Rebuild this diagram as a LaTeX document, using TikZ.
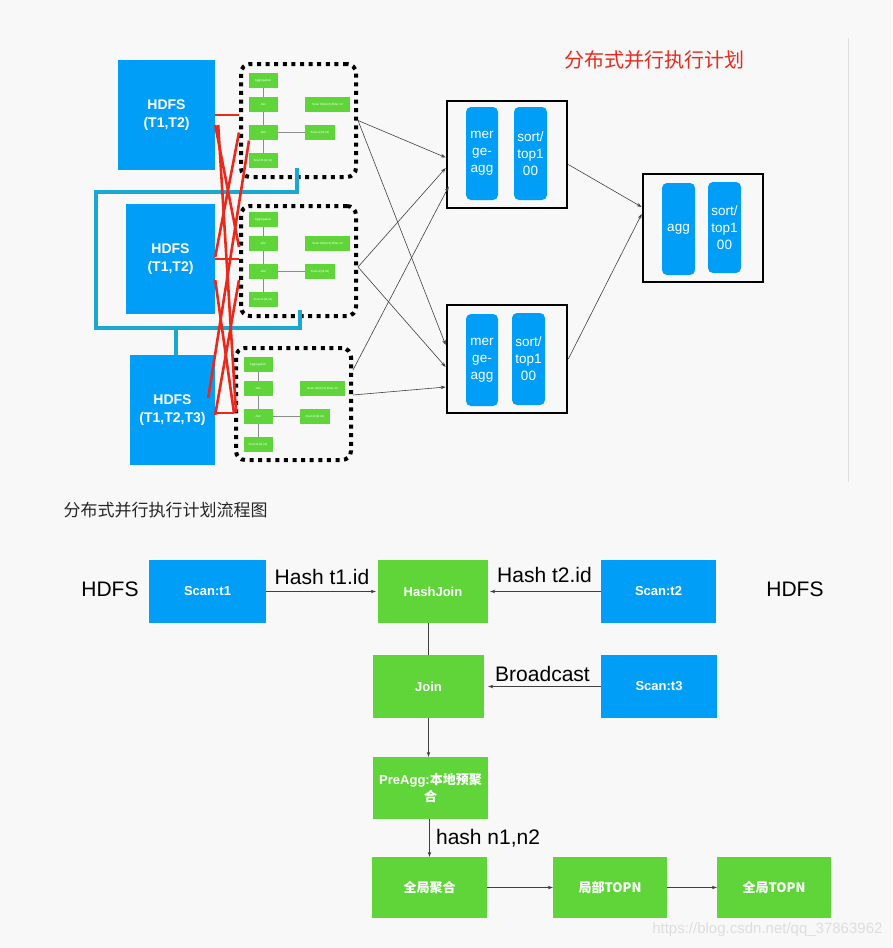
\documentclass[tikz,border=0pt]{standalone}
\usepackage{fontspec}
\setmainfont{Liberation Sans}
\newfontfamily\cjk{Noto Sans CJK SC}
\usetikzlibrary{arrows.meta}
\definecolor{hbg}{HTML}{F8F8F8}
\definecolor{hblue}{HTML}{009EF7}
\definecolor{hgreen}{HTML}{5FD53A}
\definecolor{hred}{HTML}{E8291C}
\definecolor{hteal}{HTML}{1AA8D2}
\tikzset{
  blk/.style={fill=hblue,text=white,inner sep=0pt,align=center},
  grn/.style={fill=hgreen,text=white,inner sep=0pt,align=center},
  pill/.style={blk,rounded corners=5pt,font=\fontsize{13.5}{17}\selectfont},
  boxtxt/.style={font=\bfseries\fontsize{13}{17}\selectfont},
  stage/.style={draw=black,line width=2.6pt,inner sep=0pt},
  frag/.style={draw=black,line width=4pt,dash pattern=on 4pt off 4.6pt,rounded corners=9pt,inner sep=0pt,minimum width=115pt},
  op/.style={grn,font=\fontsize{3}{3.5}\selectfont,minimum height=15pt},
  flow/.style={-{Stealth[length=5pt,width=3.5pt]},draw=black!75,line width=0.6pt},
  xch/.style={hred,line width=2.6pt},
  lbl/.style={font=\fontsize{21}{24}\selectfont,text=black}
}
\begin{document}
\begin{tikzpicture}[x=1pt,y=-1pt]
\fill[hbg] (0,0) rectangle (892,948);
\useasboundingbox (0,0) rectangle (892,948);
\draw[black!13,line width=1pt] (848,38) -- (848,482);
\node[text=hred,font=\cjk\fontsize{20}{24}\selectfont] (ttl) at (654,60) {分布式并行执行计划};

\node[blk,boxtxt,font=\bfseries\fontsize{14}{18}\selectfont,minimum width=97pt,minimum height=110pt] (h1) at (166.5,115) {HDFS\\(T1,T2)};
\node[blk,boxtxt,font=\bfseries\fontsize{14}{18}\selectfont,minimum width=89pt,minimum height=110pt] (h2) at (170.5,259) {HDFS\\(T1,T2)};
\node[blk,boxtxt,font=\bfseries\fontsize{14}{18}\selectfont,minimum width=85pt,minimum height=110pt] (h3) at (172.5,410) {HDFS\\(T1,T2,T3)};

\foreach \i/\x/\y/\h/\c in {1/241/64/113/64, 2/241/206/110/203, 3/236/348/112/348}{
  \node[frag,minimum height={\h pt}] (f\i) at (\x+57.5,\y+\h/2) {};
  \node[op,minimum width=29pt] (agg\i) at (\x+22,\c+16.5) {Aggregation};
  \node[op,minimum width=29pt] (jn\i) at (\x+22,\c+40.5) {Join};
  \node[op,minimum width=29pt] (hj\i) at (\x+22,\c+68.5) {Join};
  \node[op,minimum width=29pt] (sc\i) at (\x+22,\c+96.5) {Scan t1(id,n1)};
  \node[op,minimum width=45pt] (sa\i) at (\x+86.5,\c+40.5) {Scan t3(id,n3),Filter n3};
  \node[op,minimum width=30pt] (sb\i) at (\x+79,\c+68.5) {Scan t2(id,n2)};
  \draw[black!45,line width=0.5pt] (agg\i) -- (jn\i) -- (hj\i) -- (sc\i) (hj\i) -- (sb\i);
}

\draw[hteal,line width=4pt] (297,168) -- (297,192) -- (96,192) -- (96,328) -- (300,328) -- (300,310);
\draw[hteal,line width=4pt] ([xshift=3.5pt]h3.north) -- ([xshift=3.5pt]h3.north |- 0,326);

\draw[xch] (h1.east) -- (h1.east -| f1.west);
\draw[xch] (h2.east) -- (h2.east -| f2.west);
\draw[xch] ([yshift=-3pt]h3.east) -- ([yshift=-3pt]h3.east -| f3.west);
\draw[xch] ([yshift=-10pt]h1.east) -- ([yshift=14pt]f2.west);
\draw[xch] ([xshift=3pt,yshift=-10pt]h1.east) -- ([xshift=2pt,yshift=-8pt]f3.west);
\draw[xch] ([yshift=-12pt]f1.west) -- ([yshift=2pt]h2.east);
\draw[xch] ([xshift=10pt,yshift=-20pt]f1.west) -- ([xshift=-7pt,yshift=12pt]h3.east);
\draw[xch] ([yshift=-21pt]h2.east) -- ([yshift=-9pt]f3.west);
\draw[xch] ([yshift=-19pt]f2.west) -- ([yshift=-5pt]h3.east);

\node[stage,minimum width=120pt,minimum height=107pt] (m1) at (507,154.5) {};
\node[pill,minimum width=32pt,minimum height=93pt] (ma1) at (482,153.5) {mer\\ge-\\agg};
\node[pill,minimum width=33pt,minimum height=93pt] (ms1) at (530.5,153.5) {sort/\\top1\\00};
\node[stage,minimum width=120pt,minimum height=108pt] (m2) at (507,359) {};
\node[pill,minimum width=32pt,minimum height=92pt] (ma2) at (482,360) {mer\\ge-\\agg};
\node[pill,minimum width=33pt,minimum height=92pt] (ms2) at (528.5,359) {sort/\\top1\\00};
\node[stage,minimum width=120pt,minimum height=108pt] (g) at (703,228) {};
\node[pill,minimum width=33pt,minimum height=92pt] (ga1) at (678.5,229) {agg};
\node[pill,minimum width=33pt,minimum height=91pt] (gs1) at (724.5,227.5) {sort/\\top1\\00};

\draw[flow] (f1.east) -- ([yshift=-3pt]m1.west);
\draw[flow] (f1.east) -- ([yshift=14pt]m2.west);
\draw[flow] ([yshift=-6pt]f2.east) -- ([yshift=-13.5pt]m1.west);
\draw[flow] ([yshift=-6pt]f2.east) -- ([yshift=-8pt]m2.west);
\draw[flow] ([yshift=34pt]f3.east) -- ([xshift=3pt,yshift=-32pt]m1.west);
\draw[flow] ([yshift=9pt]f3.east) -- ([yshift=-28pt]m2.west);
\draw[flow] ([yshift=-10pt]m1.east) -- ([yshift=21pt]g.west);
\draw[flow] (m2.east) -- ([yshift=14pt]g.west);

\node[anchor=west,text=black!85,font=\cjk\fontsize{17}{20}\selectfont] (ttl2) at (60,510) {分布式并行执行计划流程图};
\node[lbl] (src1) at (110,589) {HDFS};
\node[lbl] (src2) at (795,589) {HDFS};

\node[blk,boxtxt,minimum width=117pt,minimum height=63pt] (t1) at (207.5,591.5) {Scan:t1};
\node[grn,boxtxt,minimum width=110pt,minimum height=63pt] (hj) at (433,591.5) {HashJoin};
\node[blk,boxtxt,minimum width=115pt,minimum height=63pt] (t2) at (658.5,591.5) {Scan:t2};
\node[grn,boxtxt,minimum width=111pt,minimum height=63pt] (jn) at (428.5,686.5) {Join};
\node[blk,boxtxt,minimum width=116pt,minimum height=63pt] (t3) at (659,686.5) {Scan:t3};
\node[grn,boxtxt,minimum width=115pt,minimum height=62pt] (pa) at (430.5,788) {PreAgg:{\cjk 本地预聚}\\{\cjk 合}};
\node[grn,boxtxt,font=\cjk\bfseries\fontsize{13}{17}\selectfont,minimum width=115pt,minimum height=61pt] (ga) at (429.5,887.5) {全局聚合};
\node[grn,boxtxt,font=\cjk\bfseries\fontsize{13}{17}\selectfont,minimum width=114pt,minimum height=61pt] (lt) at (610,887.5) {局部TOPN};
\node[grn,boxtxt,font=\cjk\bfseries\fontsize{13}{17}\selectfont,minimum width=114pt,minimum height=61pt] (gt) at (774,887.5) {全局TOPN};

\draw[flow,shorten >=2pt] (t1) -- node[lbl,above=3pt] (e1) {Hash t1.id} (hj);
\draw[flow,shorten >=2pt] (t2) -- node[lbl,above=5pt] (e2) {Hash t2.id} (hj);
\draw[flow,shorten >=4pt] (t3) -- node[lbl,above=1pt] (e3) {Broadcast} (jn);
\draw[draw=black!75,line width=0.6pt] (jn.north |- hj.south) -- (jn.north);
\draw[flow] (jn.south) -- (jn.south |- pa.north);
\draw[flow] (ga.north |- pa.south) -- node[lbl,right=3pt] (e4) {hash n1,n2} (ga.north);
\draw[flow] (ga) -- (lt);
\draw[flow] (lt) -- (gt);

\node[anchor=east,text=black!13,font=\fontsize{15}{18}\selectfont] (wm) at (886,930) {https://blog.csdn.net/qq\_37863962};
\end{tikzpicture}
\end{document}
